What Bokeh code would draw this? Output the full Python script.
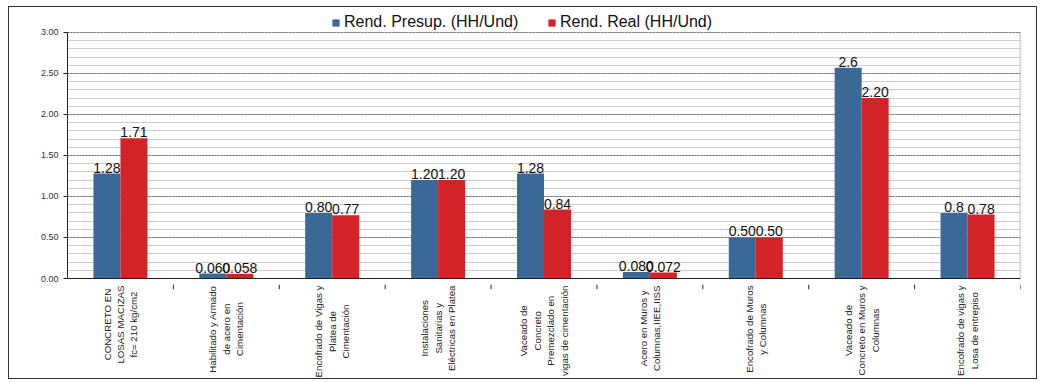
import math
from bokeh.plotting import figure
from bokeh.layouts import column
from bokeh.models import (ColumnDataSource, Legend, LegendItem, FixedTicker, Range1d,
                          NumeralTickFormatter)
from bokeh.transform import dodge
from bokeh.embed import file_html
from bokeh.resources import INLINE
from bokeh.core.properties import value

categories = [
    "CONCRETO EN\nLOSAS MACIZAS\nfc= 210 kg/cm2",
    "Habilitado y Armado\nde acero en\nCimentación",
    "Encofrado de Vigas y\nPlatea de\nCimentación",
    "Instalaciones\nSanitarias y\nEléctricas en Platea",
    "Vaceado de\nConcreto\nPremezclado en\nvigas de cimentación",
    "Acero en Muros y\nColumnas,IIEE,IISS",
    "Encofrado de Muros\ny Columnas",
    "Vaceado de\nConcreto en Muros y\nColumnas",
    "Encofrado de vigas y\nLosa de entrepiso",
]
presup = [1.28, 0.060, 0.80, 1.20, 1.28, 0.080, 0.50, 2.57, 0.80]
real = [1.71, 0.058, 0.77, 1.20, 0.84, 0.072, 0.50, 2.20, 0.78]
presup_labels = ["1.28", "0.060", "0.80", "1.20", "1.28", "0.080", "0.50", "2.6", "0.8"]
real_labels = ["1.71", "0.058", "0.77", "1.20", "0.84", "0.072", "0.50", "2.20", "0.78"]
series_names = ["Rend. Presup. (HH/Und)", "Rend. Real (HH/Und)"]
y_ticks = [0.0, 0.5, 1.0, 1.5, 2.0, 2.5, 3.0]
y_minor = [round(i / 10, 1) for i in range(31)]
y_max_axis = 3.0

BLUE = "#3A6897"
RED = "#D42229"
FONT = "Liberation Sans"

src = ColumnDataSource(dict(cat=categories, presup=presup, real=real,
                            pl=presup_labels, rl=real_labels))

W = 1027
H_TOP = 277
H_BOT = 371 - H_TOP
ML, MR = 58, 16

# top of frame leaves room for the legend above the 3.00 line
p = figure(x_range=categories, y_range=Range1d(0, 3.28), width=W, height=H_TOP,
           output_backend="svg", toolbar_location=None,
           min_border_left=ML, min_border_right=MR, min_border_top=2,
           min_border_bottom=6)
p.outline_line_color = None
p.background_fill_color = "white"

p.xgrid.grid_line_color = None
p.ygrid.ticker = FixedTicker(ticks=y_ticks, minor_ticks=y_minor)
p.ygrid.grid_line_color = "#707070"
p.ygrid.grid_line_dash = "2 1"
p.ygrid.grid_line_width = 1
p.ygrid.minor_grid_line_color = "#CDCDCD"
p.ygrid.minor_grid_line_width = 1

p.yaxis.ticker = FixedTicker(ticks=y_ticks, minor_ticks=y_minor)
p.yaxis.bounds = (0, y_max_axis)
p.yaxis.formatter = NumeralTickFormatter(format="0.00")
p.yaxis.major_label_text_font = FONT
p.yaxis.major_label_text_font_size = "9px"
p.yaxis.major_label_text_color = "#333333"
p.yaxis.axis_line_color = "#222222"
p.yaxis.major_tick_line_color = "#222222"
p.yaxis.major_tick_out = 4
p.yaxis.major_tick_in = 0
p.yaxis.minor_tick_line_color = None

# x axis: only the line here; the category labels are drawn in the strip below
p.xaxis.ticker = FixedTicker(ticks=[])
p.xaxis.axis_line_color = "#222222"
p.xaxis.major_tick_line_color = None
p.xaxis.major_label_standoff = 0

# right edge of plot area
p.segment(x0=[categories[-1]], x1=[categories[-1]], y0=[0], y1=[y_max_axis],
          line_color="#A8A8A8", line_width=1.5)
p.renderers[-1].glyph.x0 = dodge("x0", 0.5, range=p.x_range)
p.renderers[-1].glyph.x1 = dodge("x1", 0.5, range=p.x_range)

bw = 0.255
r1 = p.vbar(x=dodge("cat", -bw / 2, range=p.x_range), top="presup", width=bw,
            source=src, fill_color=BLUE, line_color=None)
r2 = p.vbar(x=dodge("cat", bw / 2, range=p.x_range), top="real", width=bw,
            source=src, fill_color=RED, line_color=None)

p.text(x=dodge("cat", -bw / 2, range=p.x_range), y="presup", text="pl", source=src,
       text_align="center", text_baseline="bottom", y_offset=-1,
       text_font=value(FONT), text_font_size="14px", text_color="#111111")
p.text(x=dodge("cat", bw / 2, range=p.x_range), y="real", text="rl", source=src,
       text_align="center", text_baseline="bottom", y_offset=-1,
       text_font=value(FONT), text_font_size="14px", text_color="#111111")

legend = Legend(items=[LegendItem(label=series_names[0], renderers=[r1]),
                       LegendItem(label=series_names[1], renderers=[r2])],
                orientation="horizontal", location=(264, 247),
                border_line_color=None, background_fill_alpha=0,
                label_text_font=FONT, label_text_font_size="16px",
                label_text_color="#111111", glyph_width=9, glyph_height=9,
                label_standoff=4, label_width=194, spacing=9, padding=0, margin=0)
p.add_layout(legend, "center")

# category label strip below the chart
b = figure(x_range=p.x_range, y_range=Range1d(-1, 0), width=W, height=H_BOT,
           output_backend="svg", toolbar_location=None,
           min_border_left=ML, min_border_right=MR, min_border_top=0, min_border_bottom=0,
           x_axis_location=None, y_axis_location=None)
b.outline_line_color = None
b.xgrid.grid_line_color = None
b.ygrid.grid_line_color = None
b.segment(x0=dodge("cat", 0.5, range=p.x_range), x1=dodge("cat", 0.5, range=p.x_range),
          y0=0, y1=-0.05, source=src, line_color="#222222", line_width=1)
b.text(x="cat", y=0, text="cat", source=src, angle=math.pi / 2,
       anchor="center_right", text_align="center", y_offset=1,
       text_font=value(FONT), text_font_size="9.7px", text_color="#222222",
       text_line_height=1.22)

layout = column(p, b, spacing=0,
                styles={"border": "1px solid #333333", "margin-left": "8px", "margin-top": "6px"})

open("out.html", "w").write(file_html(layout, INLINE))
